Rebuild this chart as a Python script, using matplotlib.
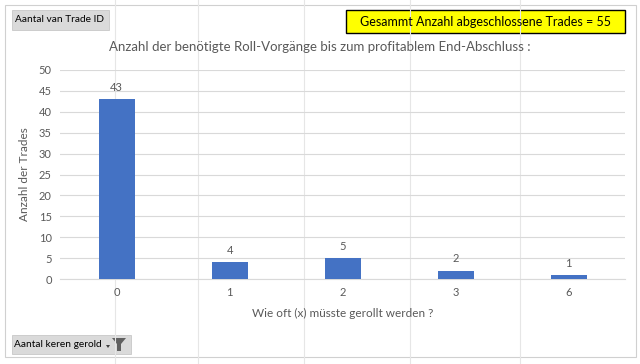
import matplotlib
matplotlib.use("Agg")
import matplotlib.pyplot as plt
from matplotlib.patches import Rectangle, Polygon

plt.rcParams['font.family'] = ['Lato', 'DejaVu Sans']

# data
categories = ["0", "1", "2", "3", "6"]
counts = [43, 4, 5, 2, 1]
y_ticks = [0, 5, 10, 15, 20, 25, 30, 35, 40, 45, 50]

TEXT = "#595959"
BAR = "#4472C4"

fig = plt.figure(figsize=(6.4, 3.64), dpi=100)

# spreadsheet background grid
bg = fig.add_axes([0, 0, 1, 1])
bg.set_xlim(0, 640)
bg.set_ylim(364, 0)
bg.axis("off")
for x in [115, 198, 304, 410, 520]:
    bg.plot([x, x], [0, 364], color="#E6E6E6", lw=0.8)
# chart area
bg.add_patch(Rectangle((5, 5), 631, 352, facecolor="white", edgecolor="#D0D0D0", lw=0.8))
# field buttons
bg.add_patch(Rectangle((12, 10), 97, 20, facecolor="#DADADA", edgecolor="#C8C8C8", lw=0.6))
bg.text(15, 20, "Aantal van Trade ID", fontsize=7.3, color="black", va="center")
bg.add_patch(Rectangle((12, 335), 119, 19, facecolor="#DADADA", edgecolor="#C8C8C8", lw=0.6))
bg.text(14, 344.5, "Aantal keren gerold", fontsize=7.3, color="black", va="center")
bg.add_patch(Polygon([[106, 345], [110, 345], [108, 348]], closed=True,
                     facecolor="#404040", edgecolor="none"))
bg.add_patch(Polygon([[112, 338], [126, 338], [121, 344], [121, 351], [117, 351], [117, 344]],
                     closed=True, facecolor="#606060", edgecolor="none"))
# yellow total box
bg.add_patch(Rectangle((346, 10), 279, 23, facecolor="#FFFF00", edgecolor="black", lw=1.0))
bg.text(485.5, 21.5, "Gesammt Anzahl abgeschlossene Trades = 55", fontsize=9,
        color="black", ha="center", va="center")
# title
bg.text(320, 47, "Anzahl der benötigte Roll-Vorgänge bis zum profitablem End-Abschluss :",
        fontsize=9.5, color=TEXT, ha="center", va="center")

ax = fig.add_axes([0.094, 0.2335, 0.883, 0.5742])
ax.set_facecolor("none")
x = range(len(categories))
bars = ax.bar(x, counts, width=0.32, color=BAR, zorder=3)
ax.set_ylim(0, 50)
ax.set_xlim(-0.5, len(categories) - 0.5)
ax.set_yticks(y_ticks)
ax.set_xticks(list(x))
ax.set_xticklabels(categories)
ax.grid(axis="y", color="#D9D9D9", lw=0.8, zorder=0)
for s in ["top", "right", "left"]:
    ax.spines[s].set_visible(False)
ax.spines["bottom"].set_color("#D9D9D9")
ax.tick_params(length=0, colors=TEXT, labelsize=8, pad=6)
for b, v in zip(bars, counts):
    ax.text(b.get_x() + b.get_width() / 2, v + 1.5, str(v), ha="center", va="bottom",
            fontsize=8, color=TEXT)
ax.set_ylabel("Anzahl der Trades", fontsize=8.5, color=TEXT, labelpad=6)
ax.set_xlabel("Wie oft (x) müsste gerollt werden ?", fontsize=8.5, color=TEXT, labelpad=7)

fig.savefig("out.png", dpi=100)
